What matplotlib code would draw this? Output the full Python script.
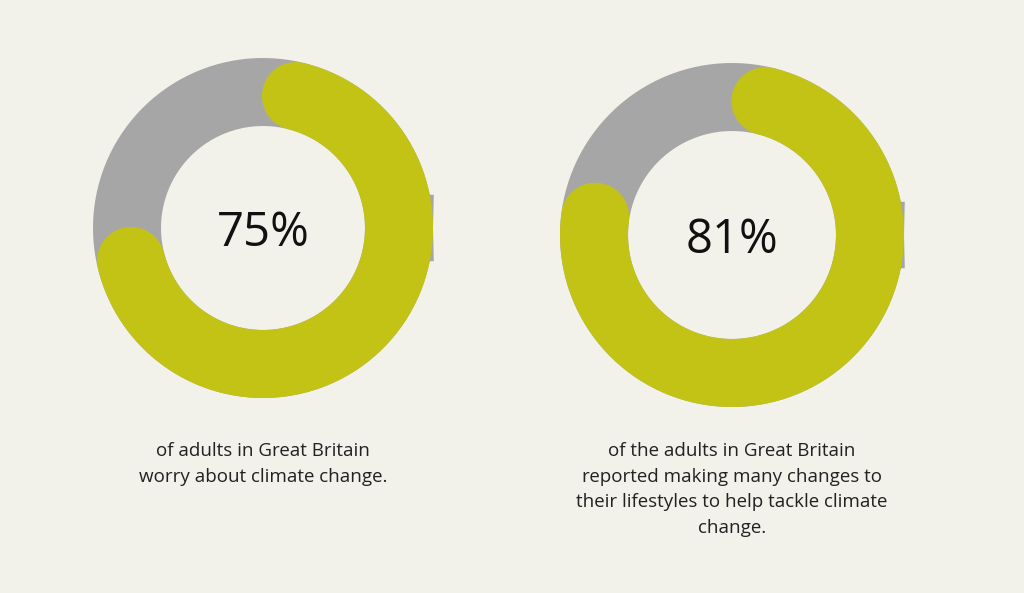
import numpy as np
import matplotlib.pyplot as plt

PERCENTS = [75, 81]
LABELS = ["75%", "81%"]
CAPTIONS = [
    "of adults in Great Britain\nworry about climate change.",
    "of the adults in Great Britain\nreported making many changes to\ntheir lifestyles to help tackle climate\nchange.",
]
CENTERS = [(263, 228), (732, 235)]
RADII = [136, 138]

BG = "#f2f2ea"
GREEN = "#c3c315"
GREY = "#a6a6a6"

fig = plt.figure(figsize=(10.24, 5.93), dpi=100, facecolor=BG)
ax = fig.add_axes([0, 0, 1, 1])
ax.set_xlim(0, 1024)
ax.set_ylim(593, 0)
ax.axis("off")
ax.set_facecolor(BG)

ring_w = 68 * 72 / 100  # px -> pt
cap_offset = 14  # degrees taken by the round caps

for pct, lab, cap, (cx, cy), r, in zip(PERCENTS, LABELS, CAPTIONS, CENTERS, RADII):
    t = np.linspace(0, 2 * np.pi, 400)
    ax.plot(cx + r * np.cos(t), cy + r * np.sin(t), color=GREY, lw=ring_w, zorder=1)
    # clockwise angle from top
    start = cap_offset
    end = pct / 100 * 360 - cap_offset
    a = np.radians(np.linspace(start, end, 400))
    ax.plot(cx + r * np.sin(a), cy - r * np.cos(a), color=GREEN, lw=ring_w,
            solid_capstyle="round", zorder=2)
    ax.text(cx, cy + 5, lab, ha="center", va="center", fontsize=34,
            family="Open Sans", color="#111111")
    ax.text(cx, 442, cap, ha="center", va="top", fontsize=13.5,
            family="Open Sans", color="#222222", linespacing=1.55)

fig.savefig("out.png", dpi=100, facecolor=BG)
